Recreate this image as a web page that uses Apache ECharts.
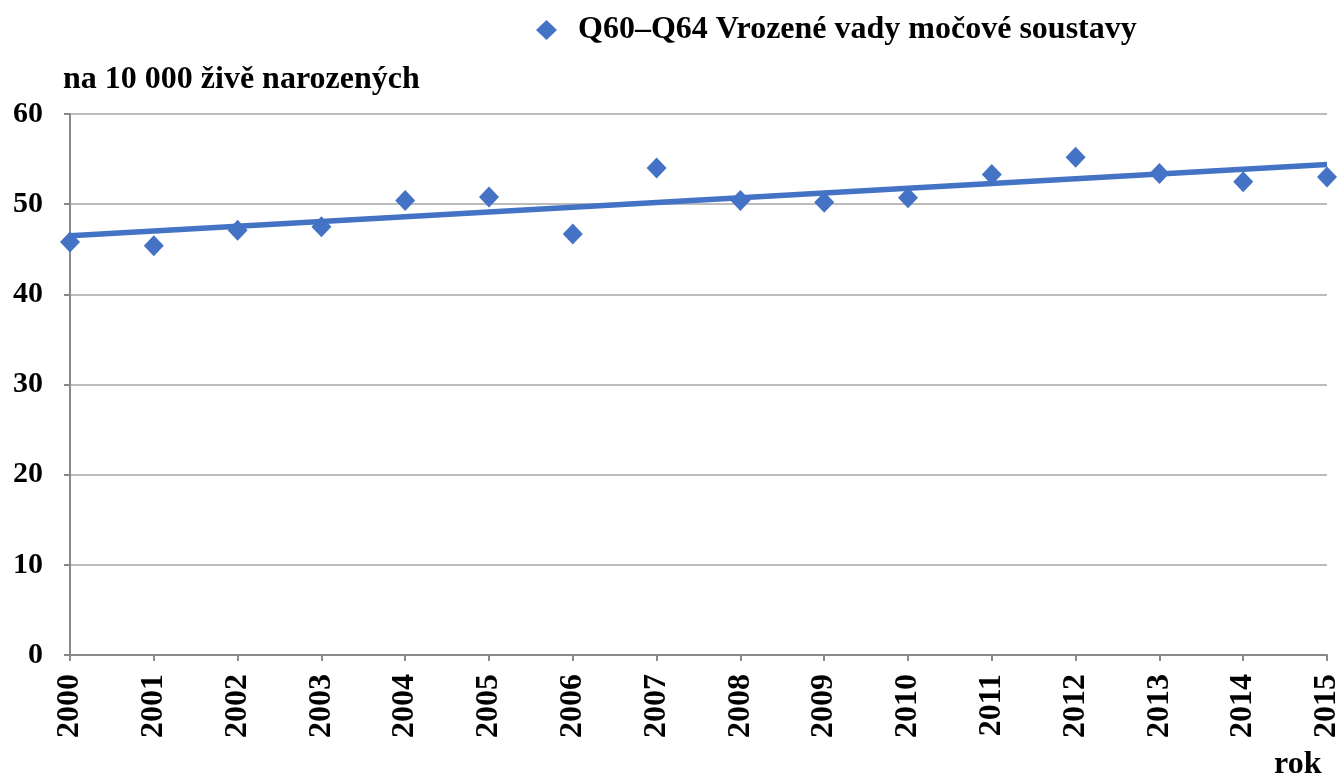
<!DOCTYPE html>
<html>
<head>
<meta charset="utf-8">
<script src="https://cdn.jsdelivr.net/npm/echarts@6/dist/echarts.min.js"></script>
<style>
  html, body { margin: 0; padding: 0; background: #fff; }
  #chart { width: 1341px; height: 780px; }
</style>
</head>
<body>
<div id="chart"></div>
<script>
const years = [2000, 2001, 2002, 2003, 2004, 2005, 2006, 2007, 2008, 2009, 2010, 2011, 2012, 2013, 2014, 2015];
const values = [45.8, 45.4, 47.1, 47.5, 50.4, 50.8, 46.7, 54.0, 50.4, 50.2, 50.7, 53.3, 55.2, 53.4, 52.5, 53.0];
// trend line end points
const trendYears = [2000, 2015];
const trendValues = [46.5, 54.4];
const yTicks = [0, 10, 20, 30, 40, 50, 60];

const seriesName = "Q60–Q64 Vrozené vady močové soustavy";
const font = "'Liberation Serif', 'Times New Roman', serif";
const blue = "#4472C4";

const chart = echarts.init(document.getElementById("chart"));

chart.setOption({
  animation: false,
  textStyle: { fontFamily: font },
  legend: {
    top: 9,
    left: 531,
    itemWidth: 21,
    itemHeight: 20,
    data: [{ name: seriesName, icon: "diamond" }],
    textStyle: {
      fontFamily: font, fontWeight: "bold", fontSize: 32, color: "#000",
      padding: [0, 0, 0, 16]
    }
  },
  grid: { left: 70, right: 14, top: 114, bottom: 125, outerBoundsMode: "none", containLabel: false },
  xAxis: {
    type: "value",
    min: years[0],
    max: years[years.length - 1],
    interval: 1,
    axisLine: { lineStyle: { color: "#898989", width: 2 } },
    axisTick: { show: true, length: 6, lineStyle: { color: "#898989", width: 2 } },
    splitLine: { show: false },
    axisLabel: {
      rotate: 90,
      margin: 19,
      fontFamily: font,
      fontWeight: "bold",
      fontSize: 32,
      color: "#000",
      formatter: v => String(v)
    }
  },
  yAxis: {
    type: "value",
    min: yTicks[0],
    max: yTicks[yTicks.length - 1],
    interval: 10,
    name: "na 10 000 živě narozených",
    nameLocation: "end",
    nameGap: 18,
    nameTextStyle: {
      align: "left",
      padding: [0, 0, 0, -7],
      fontFamily: font,
      fontWeight: "bold",
      fontSize: 32,
      color: "#000"
    },
    axisLine: { show: true, lineStyle: { color: "#898989", width: 2 } },
    axisTick: { show: true, length: 6, lineStyle: { color: "#898989", width: 2 } },
    splitLine: { lineStyle: { color: "#a6a6a6", width: 1.5 } },
    axisLabel: {
      margin: 27,
      fontFamily: font,
      fontWeight: "bold",
      fontSize: 30,
      color: "#000"
    }
  },
  graphic: [{
    type: "text",
    left: 1274,
    top: 749,
    style: { text: "rok", font: "bold 32px " + font, fill: "#000" }
  }],
  series: [
    {
      name: "trend",
      type: "line",
      data: trendYears.map((y, i) => [y, trendValues[i]]),
      symbol: "none",
      lineStyle: { color: blue, width: 5.5 },
      z: 2
    },
    {
      name: seriesName,
      type: "scatter",
      data: years.map((y, i) => [y, values[i]]),
      symbol: "diamond",
      symbolSize: [20, 21],
      itemStyle: { color: blue, opacity: 1 },
      z: 3
    }
  ]
});

window.onresize = function () {
  chart.resize();
};
</script>
</body>
</html>
